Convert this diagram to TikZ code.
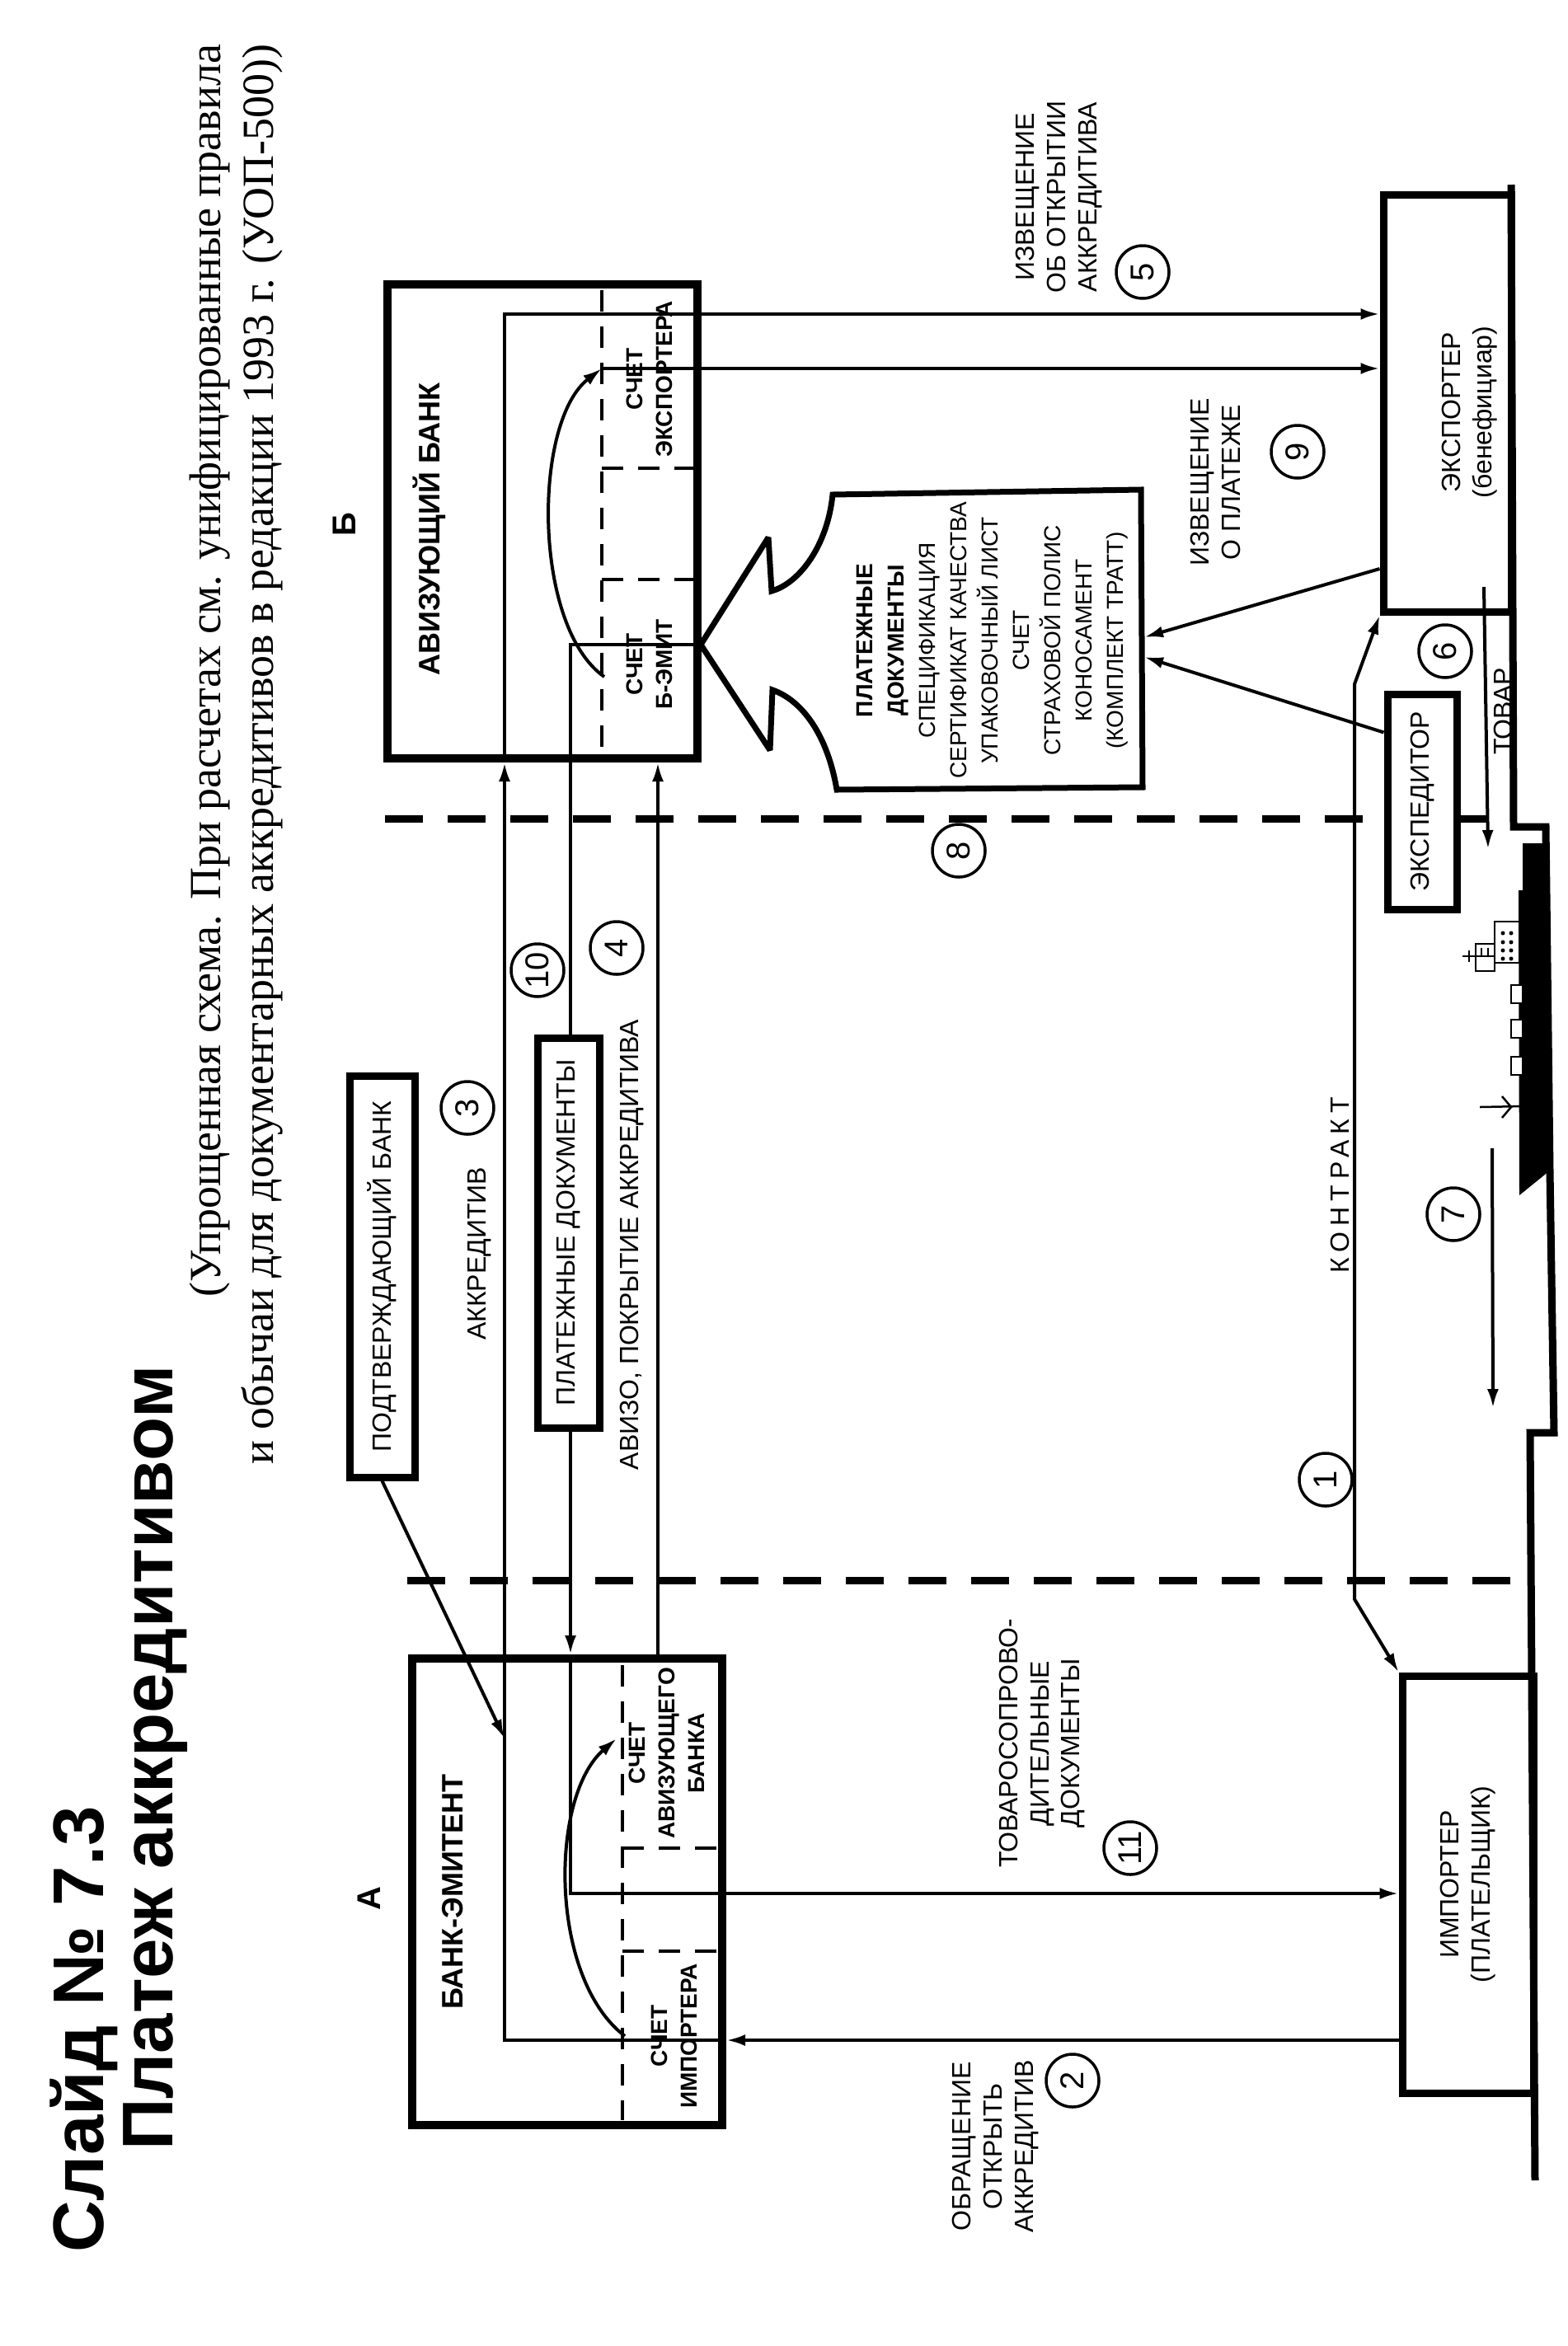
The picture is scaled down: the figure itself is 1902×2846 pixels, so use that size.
\documentclass[tikz,border=0pt]{standalone}
\usepackage{fontspec}
\setmainfont{Liberation Sans}
\newfontfamily\subfont{Liberation Serif}
\usetikzlibrary{arrows.meta}

\begin{document}
\begin{tikzpicture}[x=1pt, y=-1pt, >={Latex[length=23pt, width=14pt]},
  box/.style={draw, line width=9pt, fill=white, rotate=90, inner sep=0pt, align=center, font=\fontsize{32}{38}\selectfont},
  bank/.style={draw, line width=10pt, rotate=90, inner sep=0pt},
  txt/.style={rotate=90, align=center, inner sep=0pt, font=\fontsize{32}{38}\selectfont},
  acct/.style={rotate=90, align=center, inner sep=0pt, font=\fontsize{28}{36}\selectfont\bfseries},
  num/.style={circle, draw, line width=3.5pt, minimum size=64pt, inner sep=0pt, rotate=90, font=\fontsize{40}{40}\selectfont},
  ln/.style={line width=4pt},
  arr/.style={ln, ->},
  frontier/.style={line width=9pt, dash pattern=on 46pt off 30pt},
  acc/.style={line width=3.5pt, dash pattern=on 26pt off 18pt}]
\useasboundingbox (0,0) rectangle (1902,2846);

\node[rotate=90, anchor=base west, inner sep=0pt, font=\fontsize{87}{100}\selectfont\bfseries] (t1) at (125,2733) {Слайд № 7.3};
\node[rotate=90, anchor=base west, inner sep=0pt, font=\fontsize{87}{100}\selectfont\bfseries] (t2) at (209,2609) {Платеж аккредитивом};
\node[rotate=90, anchor=base west, inner sep=0pt, font=\subfont\fontsize{54}{64}\selectfont] (s1) at (267,1574) {(Упрощенная схема. При расчетах см. унифицированные правила};
\node[rotate=90, anchor=base west, inner sep=0pt, font=\subfont\fontsize{54}{64}\selectfont] (s2) at (331,1777) {и обычаи для документарных аккредитивов в редакции 1993 г. (УОП-500))};

\draw[frontier] (467,993) -- (1836,993);
\draw[frontier] (494,1917) -- (1856,1917);

\node[bank, minimum width=575pt, minimum height=376pt] (avb) at (658,632.5) {};
\node[bank, minimum width=566pt, minimum height=376pt] (emb) at (688,2295) {};
\draw[acc] (730,352) -- (730,914) (730,568) -- (846,568) (730,703) -- (846,703);
\draw[acc] (755,2020) -- (755,2572) (755,2242) -- (876,2242) (755,2367) -- (876,2367);
\node[txt, anchor=base, font=\fontsize{36}{40}\selectfont\bfseries] (avbt) at (533,642) {АВИЗУЮЩИЙ БАНК};
\node[acct] (se) at (788,460) {СЧЕТ\\ЭКСПОРТЕРА};
\node[acct] (sb) at (788,806) {СЧЕТ\\Б-ЭМИТ};
\node[txt, anchor=base, font=\fontsize{36}{40}\selectfont\bfseries] (embt) at (561,2295) {БАНК-ЭМИТЕНТ};
\node[acct] (sa) at (809,2127) {СЧЕТ\\АВИЗУЮЩЕГО\\БАНКА};
\node[acct] (si) at (818,2470) {СЧЕТ\\ИМПОРТЕРА};
\node[txt, font=\fontsize{40}{40}\selectfont\bfseries] (la) at (448,2303) {А};
\node[txt, font=\fontsize{40}{40}\selectfont\bfseries] (lb) at (418,636) {Б};

\node[box, minimum width=506pt, minimum height=155pt] (exp) at (1755.5,489) {};
\node[txt] (expt) at (1783,500) {ЭКСПОРТЕР\\(бенефициар)};
\node[box, minimum width=506pt, minimum height=159pt] (imp) at (1780.5,2286) {ИМПОРТЕР\\(ПЛАТЕЛЬЩИК)};
\node[box, minimum width=487pt, minimum height=79pt] (cb) at (463.5,1548.5) {ПОДТВЕРЖДАЮЩИЙ БАНК};
\node[box, minimum width=261pt, minimum height=84pt] (expd) at (1725,972.5) {ЭКСПЕДИТОР};

\coordinate (r5) at (0,381);
\coordinate (r9) at (0,447);
\coordinate (r10) at (0,782);
\coordinate (r11) at (0,2297);
\coordinate (r2) at (0,2475);
\coordinate (c3) at (612,0);
\coordinate (c10) at (692,0);
\coordinate (c4) at (798,0);
\coordinate (s9) at (730,447);
\coordinate (sbx) at (733,821);
\coordinate (six) at (758,2470);
\coordinate (sax) at (748,2109);
\coordinate (k1) at (1643,830);
\coordinate (k2) at (1643,1940);
\coordinate (k3) at (612,2109);

\draw[arr] (imp.north |- r2) -- (emb.south |- r2);
\draw[arr] (emb.south |- r2) -- (c3 |- r2) -- (c3 |- avb.west);
\draw[arr] (c3 |- avb.west) -- (c3 |- r5) -- (exp.north |- r5);
\draw[arr] (c4 |- emb.east) -- (c4 |- avb.west);
\draw[arr] (avb.south |- r10) -- (c10 |- r10) -- (c10 |- emb.east);
\draw[arr] (c10 |- emb.east) -- (c10 |- r11) -- (imp.north |- r11);
\draw[arr] (sbx) .. controls (646,760) and (646,512) .. (s9);
\draw[arr] (s9) -- (exp.north |- r9);
\draw[arr] (six) .. controls (666,2400) and (666,2180) .. (sax);
\draw[arr] (cb.west) -- (k3);
\draw[ln, <->] (exp.north west) -- (k1) -- (k2) -- (imp.north east);

\node[box, minimum width=473pt, minimum height=75pt] (pd) at (689.5,1495.5) {ПЛАТЕЖНЫЕ ДОКУМЕНТЫ};

\draw[line width=7pt, fill=white, miter limit=3] (850,782) -- (932,652) -- (936,717) .. controls (971,707) and (1004,660) .. (1010,600) -- (1384,594) -- (1386,955) -- (1015,958) .. controls (1004,893) and (974,850) .. (937,837) -- (934,910) -- cycle;
\node[txt, font=\fontsize{28}{38}\selectfont] (pdl) at (1204,777) {\textbf{ПЛАТЕЖНЫЕ}\\\textbf{ДОКУМЕНТЫ}\\СПЕЦИФИКАЦИЯ\\СЕРТИФИКАТ КАЧЕСТВА\\УПАКОВОЧНЫЙ ЛИСТ\\СЧЕТ\\СТРАХОВОЙ ПОЛИС\\КОНОСАМЕНТ\\(КОМПЛЕКТ ТРАТТ)};
\coordinate (q1) at (1388,773);
\coordinate (q2) at (1388,797);
\path (exp.north) ++(0,201) coordinate (e1);
\path (expd.north) ++(0,-84) coordinate (e2);
\draw[arr] (e1) -- (q1);
\draw[arr] (e2) -- (q2);

\coordinate (g1) at (1800,712);
\coordinate (g2) at (1805,1030);
\coordinate (g3) at (1810,1393);
\coordinate (g4) at (1811,1708);
\draw[arr] (g1) -- (g2);
\draw[arr] (g3) -- (g4);

\node[txt] (l5) at (1285,239) {ИЗВЕЩЕНИЕ\\ОБ ОТКРЫТИИ\\АККРЕДИТИВА};
\node[txt] (l9) at (1474,585) {ИЗВЕЩЕНИЕ\\О ПЛАТЕЖЕ};
\node[txt] (l3) at (582,1521) {АККРЕДИТИВ};
\node[txt] (l4) at (767,1510) {АВИЗО, ПОКРЫТИЕ АККРЕДИТИВА};
\node[txt] (l11) at (1264,2115) {ТОВАРОСОПРОВО-\\ДИТЕЛЬНЫЕ\\ДОКУМЕНТЫ};
\node[txt] (l2) at (1208,2604) {ОБРАЩЕНИЕ\\ОТКРЫТЬ\\АККРЕДИТИВ};
\node[txt, font=\fontsize{32}{38}\selectfont\addfontfeature{LetterSpace=22}] (lk) at (1625,1438) {КОНТРАКТ};
\node[txt] (lt) at (1823,863) {ТОВАР};

\node[num] (n1) at (1608,1795) {1};
\node[num] (n2) at (1301,2524) {2};
\node[num] (n3) at (567,1344) {3};
\node[num] (n4) at (748,1150) {4};
\node[num] (n5) at (1386,330) {5};
\node[num] (n6) at (1753,790) {6};
\node[num] (n7) at (1763,1473) {7};
\node[num] (n8) at (1163,1032) {8};
\node[num] (n9) at (1574,548) {9};
\node[num] (n10) at (652,1177) {10};
\node[num] (n11) at (1371,2242) {11};

\draw[line width=9pt] (1833,224) -- (1836,1003) -- (1875,1003) -- (1880,1420) -- (1885,1738) -- (1856,1738) -- (1862,2645);
\fill (1847,1023) -- (1877,1023) -- (1880,1420) -- (1843,1450) -- (1842,1080) -- (1847,1080) -- cycle;
\draw[line width=2.5pt, fill=white] (1813,1118) rectangle (1843,1168);
\foreach \u in {1132,1143,1153,1163}
  \fill (1823,\u) circle (2.5pt) (1833,\u) circle (2.5pt);
\draw[line width=2.5pt, fill=white] (1790,1145) rectangle (1813,1178);
\draw[line width=2.5pt] (1774,1160) -- (1812,1160) (1782,1153) -- (1782,1167) (1797,1150) -- (1797,1160) (1805,1150) -- (1805,1160);
\foreach \u in {1195,1237,1282}
  \draw[line width=2.5pt, fill=white] (1833,\u) rectangle (1847,\u+22);
\draw[line width=2.5pt] (1795,1343) -- (1847,1342) (1822,1330) -- (1833,1343) -- (1822,1356);
\end{tikzpicture}
\end{document}
